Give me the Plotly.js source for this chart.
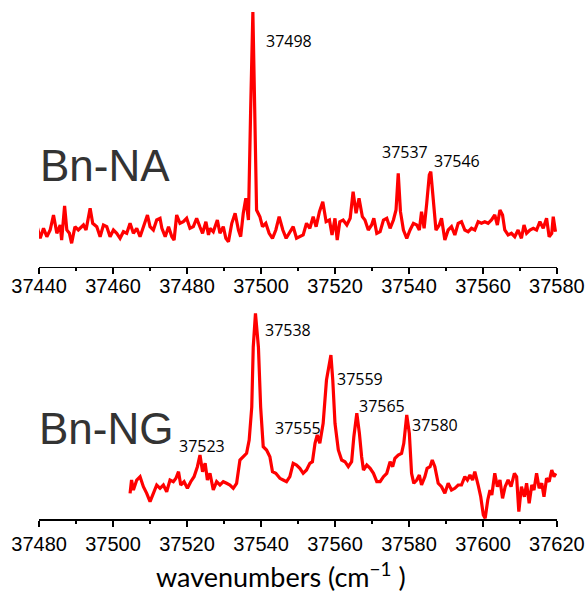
<!DOCTYPE html>
<html>
<head>
<meta charset="utf-8">
<script src="https://cdn.plot.ly/plotly-3.0.1.min.js"></script>
<style>html,body{margin:0;padding:0;background:#fff;}#chart{width:587px;height:591px;}</style>
</head>
<body>
<div id="chart"></div>
<script>
// Bn-NA spectrum (wavenumber, cm-1 ; relative signal)
const naWave = [37439.5,37440.3,37441.2,37442.1,37443.0,37443.9,37444.8,37445.7,37446.1,37446.9,37447.5,37448.2,37448.8,37449.7,37450.6,37452.0,37452.7,37453.8,37454.5,37455.6,37456.5,37457.4,37458.3,37459.2,37460.1,37461.0,37461.9,37462.8,37463.7,37464.6,37465.5,37466.4,37467.3,37468.7,37469.3,37470.0,37470.9,37471.8,37472.7,37473.2,37474.1,37475.0,37475.9,37476.5,37477.2,37478.1,37479.0,37479.9,37480.8,37481.7,37482.6,37483.5,37484.2,37485.1,37485.8,37486.2,37487.1,37488.2,37488.9,37489.8,37490.5,37491.2,37492.1,37493.0,37493.9,37494.5,37495.2,37495.9,37496.6,37497.2,37497.8,37498.3,37498.8,37499.7,37500.4,37501.3,37502.2,37503.1,37504.0,37504.9,37505.9,37506.8,37507.7,37508.7,37509.6,37510.5,37511.4,37512.3,37513.2,37514.1,37514.9,37515.8,37516.7,37517.6,37518.5,37519.2,37520.0,37520.6,37521.3,37522.2,37523.2,37524.1,37524.9,37525.7,37526.5,37527.4,37528.1,37529.0,37529.9,37530.5,37531.3,37532.2,37533.1,37534.0,37534.9,37535.8,37536.5,37537.1,37537.7,37538.5,37539.4,37540.3,37541.2,37542.1,37542.8,37543.4,37544.1,37544.8,37545.5,37545.9,37546.6,37547.3,37548.2,37548.8,37549.7,37550.6,37551.5,37552.4,37553.3,37554.2,37555.1,37556.0,37556.9,37557.8,37558.7,37559.6,37560.5,37561.4,37562.3,37563.2,37563.9,37564.6,37565.3,37565.9,37566.8,37567.7,37568.6,37569.5,37570.4,37571.1,37571.8,37572.7,37573.6,37574.5,37575.4,37576.3,37577.2,37577.9,37578.6,37579.0,37579.6];
const naSignal = [23.3,11.7,21.7,13.3,20,35,16.7,25,10,44,20,16.7,6.7,23.3,20,25,20,41.7,26.7,23.3,13.3,25,23.3,13.3,20,16.7,11.7,18.3,16.7,26.7,16.7,21.7,13.3,30,35,23.3,20,30,31.7,21.7,13.3,23.3,13.3,10,35,26.7,28.3,31.7,21.7,23.3,31.7,23,16.7,28.3,15,21.7,18.3,30,16.7,23.3,11.7,8.3,26.7,36.7,20,13.3,36.7,51.7,30,140,238,140,40,33.3,23.3,26.7,16.7,11.7,20,33.3,20,11.7,16.7,23.3,11.7,13.3,15,26.7,21.7,33.3,23.3,38.3,48.3,28.3,30,15,31.7,10,28.3,30,25,31.7,58.3,36.7,51.7,33.3,30,20,25,31.7,16.7,18.3,30,31.7,21.7,30,40,76.7,38.3,20,11.7,20,26.7,25,20,38.3,21.7,46.7,75,78.3,45,20,25,31.7,10,20,23.3,15,26.7,28.3,20,18.3,21.7,20,28.3,26.7,28.3,26.7,30,35,25,40,35,20,15,16.7,13.3,20,11.7,25,16.7,20,21.7,20,28.3,21.7,31.7,13.3,16.7,33.3,18.3];

// Bn-NG spectrum
const ngWave = [37504.6,37505.0,37505.5,37506.4,37507.3,37508.2,37509.1,37510.0,37510.9,37511.8,37512.7,37513.6,37514.5,37515.4,37516.3,37517.0,37517.7,37518.3,37519.2,37520.1,37521.0,37521.9,37522.8,37523.5,37524.2,37524.9,37525.5,37526.2,37527.1,37528.0,37528.9,37529.8,37530.7,37531.6,37532.5,37533.4,37534.3,37535.2,37536.1,37536.8,37537.5,37537.9,37538.5,37539.3,37539.9,37540.6,37541.5,37542.4,37543.1,37544.0,37545.1,37546.0,37546.9,37547.8,37548.7,37549.6,37550.5,37551.4,37552.3,37553.2,37553.9,37554.6,37555.2,37555.9,37556.8,37557.7,37558.5,37558.9,37559.4,37560.0,37560.9,37561.8,37562.7,37563.6,37564.5,37565.1,37565.9,37566.6,37567.2,37567.7,37568.6,37569.5,37570.4,37571.3,37572.2,37573.1,37574.0,37574.9,37575.6,37576.2,37577.1,37578.0,37578.6,37579.4,37580.1,37580.7,37581.3,37582.1,37582.8,37583.4,37584.3,37584.9,37585.7,37586.3,37587.0,37587.9,37588.8,37589.7,37590.6,37591.5,37592.4,37593.3,37594.2,37595.1,37595.8,37596.5,37597.2,37597.8,37598.7,37599.4,37600.1,37600.6,37601.3,37601.9,37602.4,37603.2,37603.9,37604.6,37605.3,37606.0,37606.8,37607.6,37608.5,37609.1,37609.7,37610.4,37611.2,37611.8,37612.5,37613.2,37613.8,37614.5,37615.2,37615.9,37616.5,37617.2,37617.9,37618.6,37619.2,37619.7];
const ngSignal = [36.7,50,40,50,53.3,43.3,36.7,28.3,36.7,45,41.7,45,38.3,50,48.3,51.7,58.3,45,48.3,41.7,48.3,53.3,63.3,75,58.3,66.7,50,56.7,40,48.3,45,48.3,46.7,45,41.7,46.7,70,73.3,76.7,90,123,183,216.7,183,123,83.3,80,73.3,58.3,56.7,51.7,50,48.3,53.3,66.7,65,61.7,56.7,60,66.7,68.3,86.7,95,86.7,106.7,150,170,175,150,106.7,80,70,68.3,63.3,68.3,93.3,116.7,96.7,73.3,60,65,61.7,56.7,48.3,48.3,53.3,56.7,68.3,63.3,71.7,75,76.7,86.7,115,96.7,56.7,46.7,50,55,45,53.3,61.7,63.3,70,63.3,46.7,43.3,36.7,46.7,40,41.7,45,45,53.3,50,55,50,58.3,45,33.3,15,11.7,30,40,35,56.7,43.3,50,31.7,43.3,50,43.3,56.7,53.3,18.3,43.3,33.3,46.7,26.7,45,40,56.7,41.7,46.7,33.3,51.7,48.3,60,53.3,56.7];

// axis ticks
const naTicks = [37440,37460,37480,37500,37520,37540,37560,37580];
const ngTicks = [37480,37500,37520,37540,37560,37580,37600,37620];

// peak labels
const naPeakText = ["37498","37537","37546"];
const naPeakLabelX = [37507.6,37538.9,37553.1];
const naPeakLabelY = [209,98,89];
const ngPeakText = ["37538","37559","37555","37565","37580","37523"];
const ngPeakLabelX = [37547.2,37566.8,37549.9,37572.7,37587.0,37524.05];
const ngPeakLabelY = [200,151,102,124,105,84];

const tickFont = {family: "Liberation Sans, Arial, sans-serif", size: 20, color: "#000"};
const peakFont = {family: "Open Sans, sans-serif", size: 16, color: "#000"};
const nameFont = {family: "Liberation Sans, Arial, sans-serif", size: 44, color: "#333"};

const traces = [
  {x: naWave, y: naSignal, xaxis: "x", yaxis: "y", type: "scatter", mode: "lines",
   line: {color: "#ff0000", width: 3.2}, hoverinfo: "skip"},
  {x: ngWave, y: ngSignal, xaxis: "x2", yaxis: "y2", type: "scatter", mode: "lines",
   line: {color: "#ff0000", width: 3.2}, hoverinfo: "skip"}
];

function xAxis(range, ticks, anchor, standoff) {
  return {
    range: range, anchor: anchor, domain: [0, 1],
    showline: true, linecolor: "#000", linewidth: 1.5,
    ticks: "outside", ticklen: 6, tickwidth: 1.5, tickcolor: "#000",
    tickmode: "array", tickvals: ticks, ticktext: ticks.map(String),
    ticklabelstandoff: standoff,
    minor: {tickmode: "linear", tick0: ticks[0], dtick: 10, ticks: "outside", ticklen: 3, tickwidth: 1.5, tickcolor: "#000"},
    showgrid: false, zeroline: false, tickfont: tickFont, fixedrange: true
  };
}

const annotations = [];
naPeakText.forEach((t, i) => annotations.push({x: naPeakLabelX[i], y: naPeakLabelY[i], xref: "x", yref: "y", text: t, showarrow: false, font: peakFont}));
ngPeakText.forEach((t, i) => annotations.push({x: ngPeakLabelX[i], y: ngPeakLabelY[i], xref: "x2", yref: "y2", text: t, showarrow: false, font: peakFont}));
annotations.push({x: 0, xshift: -1, y: 84.3, xref: "paper", yref: "y", text: "Bn-NA", showarrow: false, xanchor: "left", font: nameFont});
annotations.push({x: 0, xshift: -2, y: 102, xref: "paper", yref: "y2", text: "Bn-NG", showarrow: false, xanchor: "left", font: nameFont});
// x-axis title
annotations.push({x: 0.467, y: -0.108, xref: "paper", yref: "paper", yanchor: "middle", borderpad: 0,
  text: "wavenumbers (cm<sup>−1</sup> )", showarrow: false,
  font: {family: "Lato, sans-serif", size: 27, color: "#000"}});

const layout = {
  width: 587, height: 591,
  margin: {l: 39, r: 30, t: 5, b: 72},
  paper_bgcolor: "#fff", plot_bgcolor: "#fff",
  showlegend: false,
  xaxis: xAxis([37439.98, 37580.02], naTicks, "y", -5),
  xaxis2: xAxis([37479.98, 37620.02], ngTicks, "y2", 0),
  yaxis: {domain: [0.4903, 1], range: [-17, 245], visible: false, fixedrange: true},
  yaxis2: {domain: [0, 0.426], range: [11, 230], visible: false, fixedrange: true},
  annotations: annotations
};

Plotly.newPlot("chart", traces, layout, {displayModeBar: false, staticPlot: true});
</script>
</body>
</html>
